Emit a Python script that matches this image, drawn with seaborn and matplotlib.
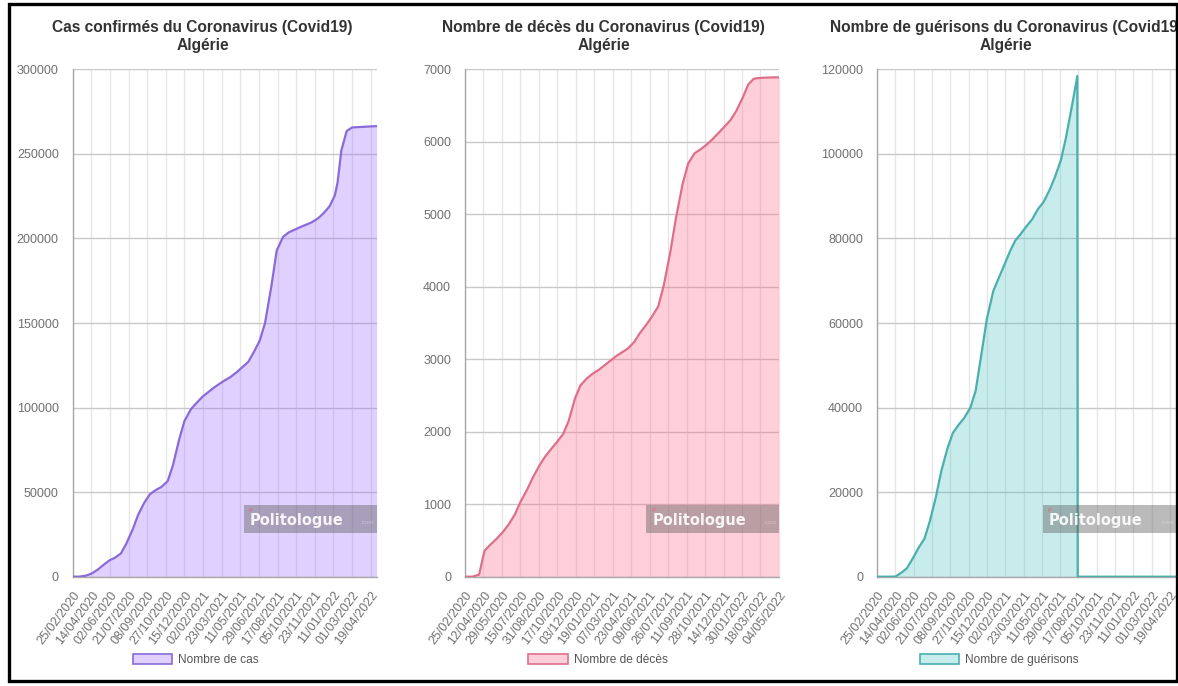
import matplotlib
matplotlib.use("Agg")
import matplotlib.pyplot as plt
import numpy as np
import pandas as pd
import seaborn as sns
from matplotlib.patches import Rectangle, Patch

# ---------------------------------------------------------------------------
# Données cumulées Algérie (Covid19)
# ---------------------------------------------------------------------------
cases_dates = [
    "2020-02-25", "2020-03-15", "2020-04-01", "2020-04-15", "2020-05-01", "2020-05-15",
    "2020-06-01", "2020-06-15", "2020-07-01", "2020-07-15", "2020-08-01", "2020-08-15",
    "2020-09-01", "2020-09-15", "2020-10-01", "2020-10-15", "2020-11-01", "2020-11-15",
    "2020-12-01", "2020-12-15", "2021-01-01", "2021-01-15", "2021-02-01", "2021-02-15",
    "2021-03-01", "2021-03-15", "2021-04-01", "2021-04-15", "2021-05-01", "2021-05-15",
    "2021-06-01", "2021-06-15", "2021-07-01", "2021-07-15", "2021-08-01", "2021-08-15",
    "2021-09-01", "2021-09-15", "2021-10-01", "2021-10-15", "2021-11-01", "2021-11-15",
    "2021-12-01", "2021-12-15", "2022-01-01", "2022-01-15", "2022-01-22", "2022-02-01",
    "2022-02-15", "2022-03-01", "2022-03-15", "2022-04-01", "2022-04-15", "2022-05-05",
]
cases_values = [
    0, 50, 700, 1900, 4200, 6800,
    9700, 11200, 13800, 19500, 28000, 36500,
    44000, 48700, 51300, 53000, 56500, 66000,
    81000, 92000, 99000, 102500, 106500, 109000,
    111500, 113700, 116200, 118000, 120800, 123600,
    127000, 132500, 139500, 149800, 172000, 193000,
    201000, 203500, 205200, 206600, 208200, 209500,
    211800, 214600, 219000, 225500, 233000, 252000,
    263500, 265600, 265800, 266000, 266200, 266400,
]

deaths_dates = [
    "2020-02-25", "2020-03-15", "2020-04-01", "2020-04-10", "2020-04-15", "2020-05-01",
    "2020-05-15", "2020-06-01", "2020-06-15", "2020-07-01", "2020-07-15", "2020-08-01",
    "2020-08-15", "2020-09-01", "2020-09-15", "2020-10-01", "2020-10-15", "2020-11-01",
    "2020-11-15", "2020-12-01", "2020-12-15", "2021-01-01", "2021-01-15", "2021-02-01",
    "2021-02-15", "2021-03-01", "2021-03-15", "2021-04-01", "2021-04-15", "2021-05-01",
    "2021-05-15", "2021-06-01", "2021-06-15", "2021-07-01", "2021-07-15", "2021-08-01",
    "2021-08-15", "2021-09-01", "2021-09-15", "2021-10-01", "2021-10-15", "2021-11-01",
    "2021-11-15", "2021-12-01", "2021-12-15", "2022-01-01", "2022-01-15", "2022-02-01",
    "2022-02-15", "2022-03-01", "2022-03-15", "2022-04-01", "2022-04-15", "2022-05-05",
]
deaths_values = [
    0, 0, 30, 250, 360, 450,
    520, 620, 720, 860, 1030, 1200,
    1360, 1530, 1650, 1760, 1850, 1970,
    2150, 2460, 2640, 2740, 2800, 2860,
    2920, 2980, 3040, 3100, 3150, 3240,
    3360, 3480, 3590, 3730, 4020, 4490,
    4950, 5420, 5700, 5840, 5890, 5960,
    6030, 6120, 6200, 6300, 6420, 6610,
    6790, 6870, 6880, 6885, 6888, 6889,
]

recov_dates = [
    "2020-02-25", "2020-03-15", "2020-04-01", "2020-04-15", "2020-05-01", "2020-05-15",
    "2020-06-01", "2020-06-15", "2020-07-01", "2020-07-15", "2020-08-01", "2020-08-15",
    "2020-09-01", "2020-09-15", "2020-10-01", "2020-10-15", "2020-11-01", "2020-11-15",
    "2020-12-01", "2020-12-15", "2021-01-01", "2021-01-15", "2021-02-01", "2021-02-15",
    "2021-03-01", "2021-03-15", "2021-04-01", "2021-04-15", "2021-05-01", "2021-05-15",
    "2021-06-01", "2021-06-15", "2021-07-01", "2021-07-15", "2021-08-01", "2021-08-14",
    "2021-08-15", "2022-05-05",
]
recov_values = [
    0, 0, 0, 50, 1000, 2000,
    4500, 6800, 9000, 13000, 19000, 25000,
    30500, 34000, 36000, 37500, 40000, 44000,
    53000, 61000, 67500, 70500, 74000, 77000,
    79500, 81000, 83000, 84500, 87000, 88500,
    91500, 94500, 98500, 104000, 112000, 118400,
    0, 0,
]

ticks_49 = ["25/02/2020", "14/04/2020", "02/06/2020", "21/07/2020", "08/09/2020",
            "27/10/2020", "15/12/2020", "02/02/2021", "23/03/2021", "11/05/2021",
            "29/06/2021", "17/08/2021", "05/10/2021", "23/11/2021", "11/01/2022",
            "01/03/2022", "19/04/2022"]
ticks_47 = ["25/02/2020", "12/04/2020", "29/05/2020", "15/07/2020", "31/08/2020",
            "17/10/2020", "03/12/2020", "19/01/2021", "07/03/2021", "23/04/2021",
            "09/06/2021", "26/07/2021", "11/09/2021", "28/10/2021", "14/12/2021",
            "30/01/2022", "18/03/2022", "04/05/2022"]

titles = ["Cas confirmés du Coronavirus (Covid19)\nAlgérie",
          "Nombre de décès du Coronavirus (Covid19)\nAlgérie",
          "Nombre de guérisons du Coronavirus (Covid19)\nAlgérie"]
legend_labels = ["Nombre de cas", "Nombre de décès", "Nombre de guérisons"]
y_ticks = [np.arange(0, 300001, 50000), np.arange(0, 7001, 1000), np.arange(0, 120001, 20000)]

# ---------------------------------------------------------------------------
sns.set_theme(style="white")
plt.rcParams["font.family"] = ["Liberation Sans", "DejaVu Sans"]

W, H = 1178, 686
fig = plt.figure(figsize=(W / 100, H / 100), dpi=100)
fig.patch.set_facecolor("white")

# panneaux : (gauche, droite) en pixels
panels = [
    dict(x0=72.7, x1=376.7, dates=cases_dates, vals=cases_values, ticks=ticks_49,
         line="#8a6ad8", fill="#9966ff", title_cx=202.5, leg_cx=196),
    dict(x0=465.0, x1=779.3, dates=deaths_dates, vals=deaths_values, ticks=ticks_47,
         line="#de6f8a", fill="#ff6384", title_cx=603.5, leg_cx=598),
    dict(x0=877.0, x1=1176.0, dates=recov_dates, vals=recov_values, ticks=ticks_49,
         line="#4aafaf", fill="#4bc0c0", title_cx=1006, leg_cx=999),
]
y_top, y_bot = 69.3, 576.7
start, end = pd.Timestamp("2020-02-25"), pd.Timestamp("2022-05-05")

for i, p in enumerate(panels):
    ax = fig.add_axes([p["x0"] / W, 1 - y_bot / H, (p["x1"] - p["x0"]) / W, (y_bot - y_top) / H])
    df = pd.DataFrame({"date": pd.to_datetime(p["dates"]), "valeur": p["vals"]})
    ax.fill_between(df["date"], 0, df["valeur"], color=p["fill"], alpha=0.3, lw=0, zorder=2)
    sns.lineplot(data=df, x="date", y="valeur", ax=ax, color=p["line"], lw=1.6,
                 estimator=None, sort=False, zorder=3)
    ax.set_xlim(start, end)
    yt = y_ticks[i]
    ax.set_ylim(yt[0], yt[-1])
    ax.set_yticks(yt)
    ax.set_yticklabels([str(int(v)) for v in yt])
    xt = pd.to_datetime(p["ticks"], format="%d/%m/%Y")
    ax.set_xticks(xt)
    ax.set_xticklabels(p["ticks"], rotation=53, ha="right", rotation_mode="anchor")
    ax.set_xlabel("")
    ax.set_ylabel("")
    ax.set_axisbelow(True)
    ax.grid(axis="x", color="#e6e6e6", lw=1.0)
    ax.grid(axis="y", color="#c8c8c8", lw=1.0)
    for s in ["top", "right"]:
        ax.spines[s].set_visible(False)
    for s in ["left", "bottom"]:
        ax.spines[s].set_color("#a8a8a8")
        ax.spines[s].set_linewidth(1.0)
    ax.tick_params(axis="both", which="major", length=7, width=1, color="#dddddd",
                   labelsize=9, labelcolor="#707070", pad=2)
    ax.tick_params(axis="y", pad=3)

    # titre
    fig.text(p["title_cx"] / W, 1 - 36.5 / H, titles[i], ha="center", va="center",
             fontsize=11.2, fontweight="bold", color="#333333", linespacing=1.25)

    # légende
    handle = Patch(facecolor=matplotlib.colors.to_rgba(p["fill"], 0.3),
                   edgecolor=p["line"], lw=1.2)
    fig.legend([handle], [legend_labels[i]], loc="center",
               bbox_to_anchor=(p["leg_cx"] / W, 1 - 660 / H), bbox_transform=fig.transFigure,
               frameon=False, fontsize=8.6, labelcolor="#555555",
               handlelength=3.3, handleheight=1.0, handletextpad=0.5)

    # filigrane
    wx0, wy0, ww, wh = p["x1"] - 133, 505, 133, 28
    fig.add_artist(Rectangle((wx0 / W, 1 - (wy0 + wh) / H), ww / W, wh / H,
                             transform=fig.transFigure, facecolor="#5c5c5c",
                             alpha=0.42, lw=0, zorder=5))
    fig.text((wx0 + 6) / W, 1 - (wy0 + 15) / H, "Politologue", ha="left", va="center",
             fontsize=10.5, fontweight="bold", family="DejaVu Sans", color="white",
             alpha=0.9, zorder=6)
    fig.text((wx0 + 117) / W, 1 - (wy0 + 18) / H, ".com", ha="left", va="center",
             fontsize=4.5, color="white", alpha=0.35, zorder=6)
    fig.text((wx0 + 5) / W, 1 - (wy0 + 6) / H, "P", ha="left", va="center",
             fontsize=4.5, fontweight="bold", color="#e06070", alpha=0.6, zorder=6)

# cadre noir autour de l'ensemble (les textes qui dépassent sont coupés au bord)
fig.add_artist(Rectangle((8.5 / W, 1 - 681 / H), (1176.5 - 8.5) / W, (681 - 3.5) / H,
                         transform=fig.transFigure, fill=False, edgecolor="black",
                         lw=2.4, zorder=10))
fig.add_artist(Rectangle((1177.5 / W, 0), 10 / W, 1, transform=fig.transFigure,
                         facecolor="white", lw=0, zorder=9))

fig.savefig("out.png", dpi=100)
